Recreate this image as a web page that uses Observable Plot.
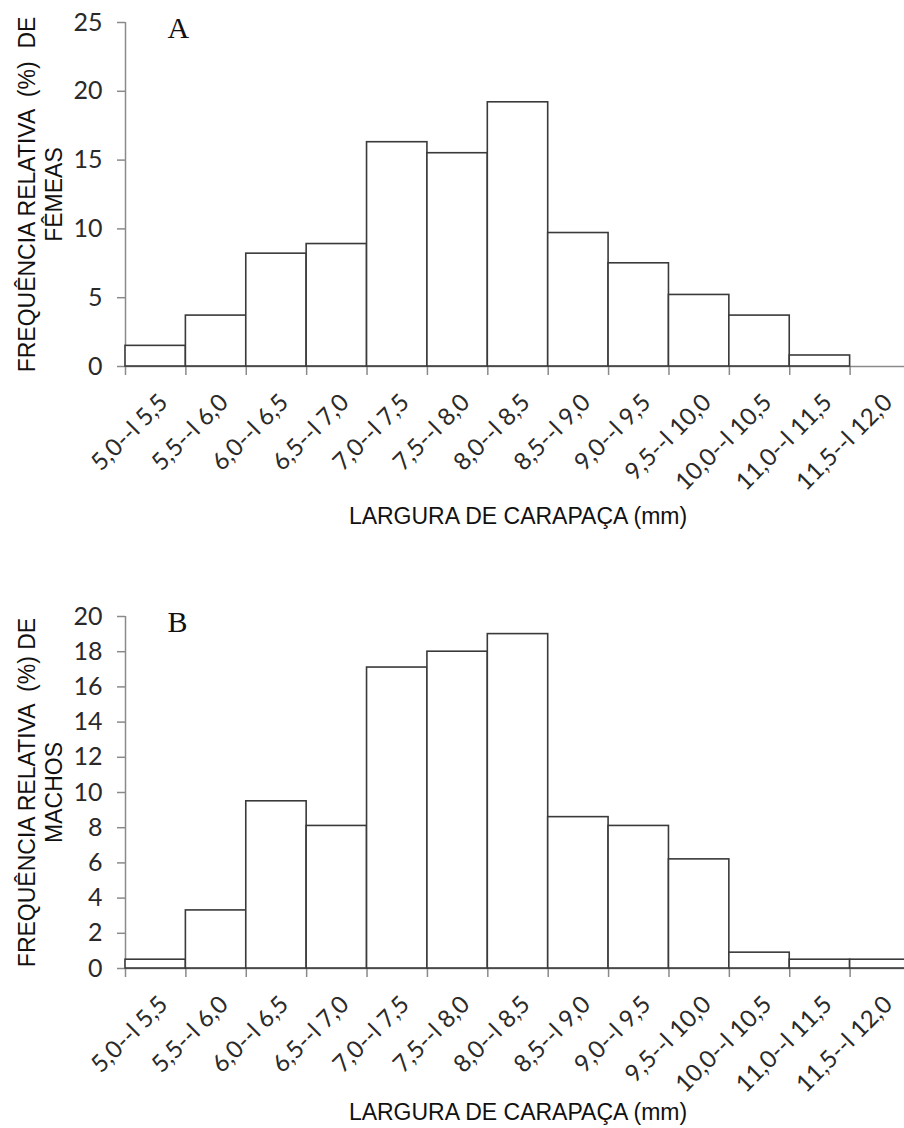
<!DOCTYPE html>
<html>
<head>
<meta charset="utf-8">
<script src="https://cdn.jsdelivr.net/npm/d3@7"></script>
<script src="https://cdn.jsdelivr.net/npm/@observablehq/plot@0.6"></script>
<style>
  html, body { margin: 0; padding: 0; background: #fff; overflow: hidden; }
  #root { width: 904px; }
  #root svg { display: block; }
</style>
</head>
<body>
<div id="root"></div>
<script>
// Classes of carapace width (mm)
const classes = [
  "5,0--l 5,5", "5,5--l 6,0", "6,0--l 6,5", "6,5--l 7,0", "7,0--l 7,5",
  "7,5--l 8,0", "8,0--l 8,5", "8,5--l 9,0", "9,0--l 9,5", "9,5--l 10,0",
  "10,0--l 10,5", "11,0--l 11,5", "11,5--l 12,0"
];
// Relative frequency (%) – females (A)
const femeas = [1.5, 3.7, 8.2, 8.9, 16.3, 15.5, 19.2, 9.7, 7.5, 5.2, 3.7, 0.8, 0];
// Relative frequency (%) – males (B)
const machos = [0.5, 3.3, 9.5, 8.1, 17.1, 18.0, 19.0, 8.6, 8.1, 6.2, 0.9, 0.5, 0.5];
const yTicksA = [0, 5, 10, 15, 20, 25];
const yTicksB = [0, 2, 4, 6, 8, 10, 12, 14, 16, 18, 20];
const yTitleA = "FREQUÊNCIA RELATIVA  (%)  DE\nFÊMEAS";
const yTitleB = "FREQUÊNCIA RELATIVA  (%) DE\nMACHOS";
const xTitle = "LARGURA DE CARAPAÇA (mm)";

const gray = "#8a8a8a";
const ink = "#2a2a2a";
const tickFont = "Lato, 'Open Sans', sans-serif";
const titleFont = "'Liberation Sans', Arial, sans-serif";

function panel(values, yTicks, yTitle, letter, o) {
  const rows = classes.map((c, i) => ({i, c, v: values[i]}));
  const edges = d3.range(classes.length + 1);
  const centers = classes.map((c, i) => i + 0.5);
  const yMax = yTicks[yTicks.length - 1];
  return Plot.plot({
    width: 904,
    height: o.height,
    marginLeft: 125,
    marginRight: -6,
    marginTop: o.mt,
    marginBottom: o.mb,
    x: {domain: [0, classes.length], label: null},
    y: {domain: [0, yMax], label: null},
    style: {fontFamily: tickFont, background: "#fff"},
    marks: [
      Plot.ruleY([0], {stroke: gray, strokeWidth: 1.5}),
      Plot.ruleX([0], {y1: 0, y2: yMax, stroke: gray, strokeWidth: 1.5}),
      Plot.axisY(yTicks, {tickSize: 8, tickPadding: 15, fontSize: 25, fontFamily: tickFont,
        stroke: gray, strokeWidth: 1.5, fill: ink, label: null}),
      Plot.axisX(edges, {tickSize: 9, tickFormat: () => "", stroke: gray, strokeWidth: 1.5, label: null}),
      Plot.axisX(centers, {tickSize: 0, tickRotate: -45, tickPadding: 32, dx: 8,
        tickFormat: d => classes[Math.floor(d)], fontSize: 24, fontFamily: tickFont, fill: ink, label: null}),
      Plot.rect(rows.filter(d => d.v > 0), {x1: "i", x2: d => d.i + 1, y1: 0, y2: "v",
        fill: "white", stroke: "#3a3a3a", strokeWidth: 1.6}),
      Plot.text([yTitle], {frameAnchor: "left", rotate: -90, dx: -86, textAnchor: "middle",
        lineAnchor: "middle", lineHeight: 1.2, fontSize: 23, fontFamily: titleFont, fill: "#111"}),
      Plot.text([letter], {frameAnchor: "top-left", dx: o.letterDx, dy: o.letterDy, lineAnchor: "top",
        textAnchor: "start", fontSize: 30, fontFamily: "'Liberation Serif', 'Times New Roman', serif", fill: "#111"}),
      Plot.text([xTitle], {frameAnchor: "bottom", dy: o.xTitleDy, lineAnchor: "middle", textAnchor: "middle",
        fontSize: 23, fontFamily: titleFont, fill: "#111"})
    ]
  });
}

const root = document.getElementById("root");
root.append(panel(femeas, yTicksA, yTitleA, "A", {height: 560, mt: 22, mb: 194, letterDx: 42, letterDy: -6, xTitleDy: 150}));
root.append(panel(machos, yTicksB, yTitleB, "B", {height: 568, mt: 56, mb: 160, letterDx: 42, letterDy: -6, xTitleDy: 144}));
</script>
</body>
</html>
